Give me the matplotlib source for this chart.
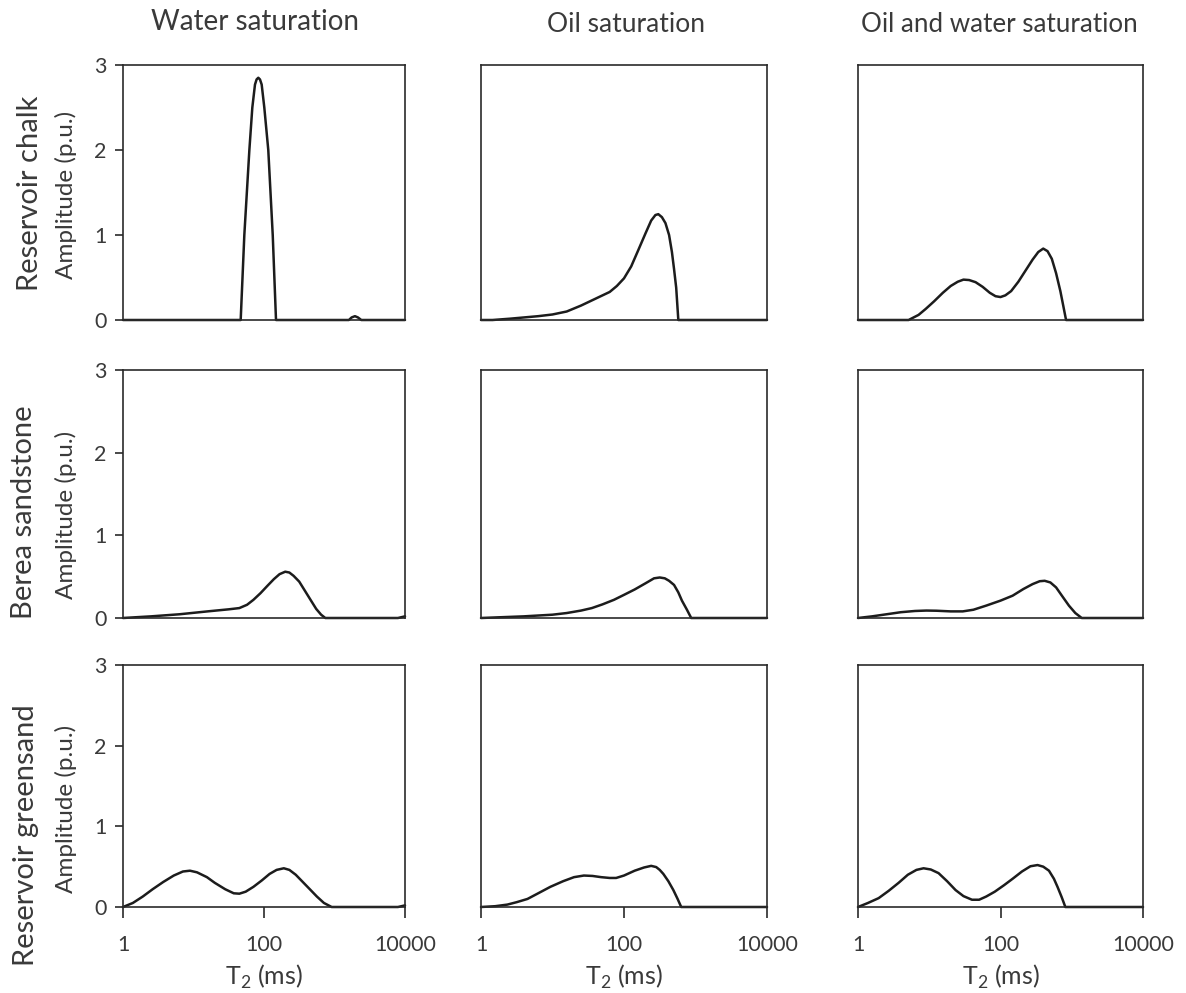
import matplotlib
matplotlib.use("Agg")
import matplotlib.pyplot as plt
from matplotlib.ticker import FixedLocator, NullLocator, NullFormatter

plt.rcParams['font.family'] = ['Lato', 'DejaVu Sans']
plt.rcParams['mathtext.fontset'] = 'custom'
plt.rcParams['mathtext.rm'] = 'Lato'

# ---------------- data (T2 in ms, amplitude in p.u.) ----------------
col_titles = ["Water saturation", "Oil saturation", "Oil and water saturation"]
row_titles = ["Reservoir chalk", "Berea sandstone", "Reservoir greensand"]
y_ticks = [0, 1, 2, 3]
x_ticks = [1, 100, 10000]
x_ticklabels = ["1", "100", "10000"]

chalk_water_t2 = [1, 46.7, 52.6, 62, 68.3, 74.5, 78.5, 83, 87.7, 92.7, 101, 115, 133, 148,
                  1600, 1750, 1950, 2150, 2400, 10000]
chalk_water_amp = [0, 0, 1.0, 2.0, 2.5, 2.77, 2.83, 2.85, 2.83, 2.77, 2.5, 2.0, 1.0, 0,
                   0, 0.03, 0.045, 0.03, 0, 0]

chalk_oil_t2 = [1, 1.45, 2.51, 3.98, 6.31, 10, 15.8, 25.1, 39.8, 63.1, 79.4, 100, 126, 158,
                200, 240, 275, 302, 339, 380, 427, 468, 501, 537, 575, 10000]
chalk_oil_amp = [0, 0, 0.015, 0.03, 0.045, 0.065, 0.10, 0.17, 0.25, 0.33, 0.40, 0.49, 0.63,
                 0.82, 1.02, 1.17, 1.235, 1.245, 1.21, 1.14, 1.0, 0.80, 0.60, 0.38, 0, 0]

chalk_both_t2 = [1, 5.13, 7.08, 8.91, 11.7, 15.5, 20, 25.1, 30.2, 36.3, 44.7, 56.2, 70.8,
                 85.1, 100, 117, 141, 178, 224, 282, 339, 398, 457, 525, 603, 692, 759,
                 832, 10000]
chalk_both_amp = [0, 0, 0.06, 0.13, 0.22, 0.32, 0.40, 0.45, 0.475, 0.47, 0.445, 0.39, 0.32,
                  0.28, 0.27, 0.29, 0.34, 0.45, 0.58, 0.71, 0.80, 0.84, 0.81, 0.72, 0.55,
                  0.34, 0.17, 0, 0]

berea_water_t2 = [1, 2.51, 6.31, 15.8, 31.6, 44.7, 57.5, 70.8, 89.1, 112, 138, 166, 200,
                  229, 263, 316, 380, 457, 550, 646, 741, 7943, 10000]
berea_water_amp = [0, 0.02, 0.045, 0.08, 0.105, 0.12, 0.16, 0.22, 0.30, 0.39, 0.47, 0.53,
                   0.56, 0.55, 0.51, 0.44, 0.33, 0.22, 0.11, 0.04, 0, 0, 0.02]

berea_oil_t2 = [1, 3.98, 10, 15.8, 25.1, 35.5, 50.1, 72.4, 100, 141, 200, 263, 316, 372,
                427, 501, 575, 646, 759, 871, 10000]
berea_oil_amp = [0, 0.02, 0.04, 0.06, 0.09, 0.12, 0.165, 0.22, 0.28, 0.345, 0.42, 0.48,
                 0.49, 0.48, 0.45, 0.40, 0.31, 0.21, 0.10, 0, 0]

berea_both_t2 = [1, 1.58, 2.51, 3.98, 6.31, 9.12, 12.6, 20, 29.5, 41.7, 63.1, 100, 148,
                 209, 282, 355, 417, 501, 603, 741, 912, 1122, 1380, 10000]
berea_both_amp = [0, 0.02, 0.045, 0.07, 0.085, 0.09, 0.088, 0.08, 0.08, 0.10, 0.15, 0.21,
                  0.27, 0.35, 0.41, 0.445, 0.45, 0.43, 0.37, 0.26, 0.15, 0.06, 0, 0]

green_water_t2 = [1, 1.38, 1.91, 2.63, 3.72, 5.25, 7.08, 8.91, 11.2, 15.5, 20, 28.2, 37.2,
                  44.7, 55, 70.8, 93.3, 120, 151, 191, 229, 282, 355, 447, 562, 708, 912,
                  7943, 10000]
green_water_amp = [0, 0.05, 0.13, 0.22, 0.31, 0.39, 0.44, 0.45, 0.43, 0.37, 0.30, 0.22,
                   0.17, 0.165, 0.19, 0.25, 0.33, 0.41, 0.46, 0.48, 0.46, 0.40, 0.31, 0.22,
                   0.13, 0.05, 0, 0, 0.02]

green_oil_t2 = [1, 1.58, 2.34, 3.16, 4.47, 6.31, 9.33, 14.1, 20, 27.5, 36.3, 47.9, 63.1,
                77.6, 100, 141, 191, 240, 282, 316, 355, 417, 490, 562, 631, 10000]
green_oil_amp = [0, 0.01, 0.03, 0.06, 0.10, 0.17, 0.25, 0.32, 0.37, 0.39, 0.385, 0.37,
                 0.36, 0.36, 0.39, 0.45, 0.49, 0.51, 0.495, 0.46, 0.41, 0.32, 0.21, 0.10,
                 0, 0]

green_both_t2 = [1, 1.38, 1.95, 2.69, 3.72, 5.01, 6.61, 8.32, 10.5, 13.5, 17.8, 23.4, 30.2,
                 39.8, 50.1, 63.1, 83.2, 112, 148, 200, 263, 331, 398, 479, 562, 631, 724,
                 813, 10000]
green_both_amp = [0, 0.05, 0.11, 0.20, 0.30, 0.40, 0.46, 0.48, 0.465, 0.42, 0.32, 0.21,
                  0.135, 0.09, 0.09, 0.13, 0.19, 0.27, 0.35, 0.44, 0.505, 0.52, 0.50, 0.45,
                  0.35, 0.25, 0.12, 0, 0]

series = [
    [(chalk_water_t2, chalk_water_amp), (chalk_oil_t2, chalk_oil_amp), (chalk_both_t2, chalk_both_amp)],
    [(berea_water_t2, berea_water_amp), (berea_oil_t2, berea_oil_amp), (berea_both_t2, berea_both_amp)],
    [(green_water_t2, green_water_amp), (green_oil_t2, green_oil_amp), (green_both_t2, green_both_amp)],
]

# ---------------- layout ----------------
W, H = 1186, 993
fig = plt.figure(figsize=(W / 100, H / 100), dpi=100)

def fx(px):
    return px / W

def fy(py):
    return 1 - py / H

col_x = [(123, 405), (481, 767), (858, 1143)]
row_y = [(65, 320), (370, 618), (665, 907)]

line_col = "#1c1c1c"
text_col = "#3a3a3a"

for r in range(3):
    for c in range(3):
        x0, x1 = col_x[c]
        y0, y1 = row_y[r]
        ax = fig.add_axes([fx(x0), fy(y1), (x1 - x0) / W, (y1 - y0) / H])
        t2, amp = series[r][c]
        ax.plot(t2, amp, color=line_col, lw=1.8, solid_joinstyle='round',
                solid_capstyle='round', clip_on=False)
        ax.set_xscale('log')
        ax.set_xlim(1, 10000)
        ax.set_ylim(0, 3)
        for s in ax.spines.values():
            s.set_color("#2a2a2a")
            s.set_linewidth(1.2)
        ax.xaxis.set_minor_locator(NullLocator())
        ax.xaxis.set_minor_formatter(NullFormatter())
        if r == 2:
            ax.xaxis.set_major_locator(FixedLocator(x_ticks))
            ax.set_xticklabels(x_ticklabels)
            ax.tick_params(axis='x', direction='out', length=8, width=1.2,
                           color="#2a2a2a", labelsize=15.5, labelcolor=text_col, pad=12)
            ax.set_xlabel(r"T$_\mathregular{2}$ (ms)", fontsize=18, color=text_col, labelpad=6)
        else:
            ax.set_xticks([])
        if c == 0:
            ax.set_yticks(y_ticks)
            ax.tick_params(axis='y', direction='out', length=6, width=1.2,
                           color="#2a2a2a", labelsize=15.5, labelcolor=text_col, pad=6)
        else:
            ax.set_yticks([])

# column titles
title_pos = [(255, 22, 20), (626, 24, 19), (999, 24, 18.7)]
for txt, (px, py, fs) in zip(col_titles, title_pos):
    fig.text(fx(px), fy(py), txt, ha='center', va='center', fontsize=fs, color=text_col)

# row titles and amplitude labels
row_label_pos = [(30, 193), (24, 512), (26, 835)]
amp_label_pos = [(66, 195), (66, 515), (66, 809)]
for txt, (px, py), (ax_, ay_) in zip(row_titles, row_label_pos, amp_label_pos):
    fig.text(fx(px), fy(py), txt, ha='center', va='center', rotation=90,
             fontsize=21, color=text_col)
    fig.text(fx(ax_), fy(ay_), "Amplitude (p.u.)", ha='center', va='center', rotation=90,
             fontsize=17.5, color=text_col)

fig.savefig("out.png", dpi=100, facecolor="white")
